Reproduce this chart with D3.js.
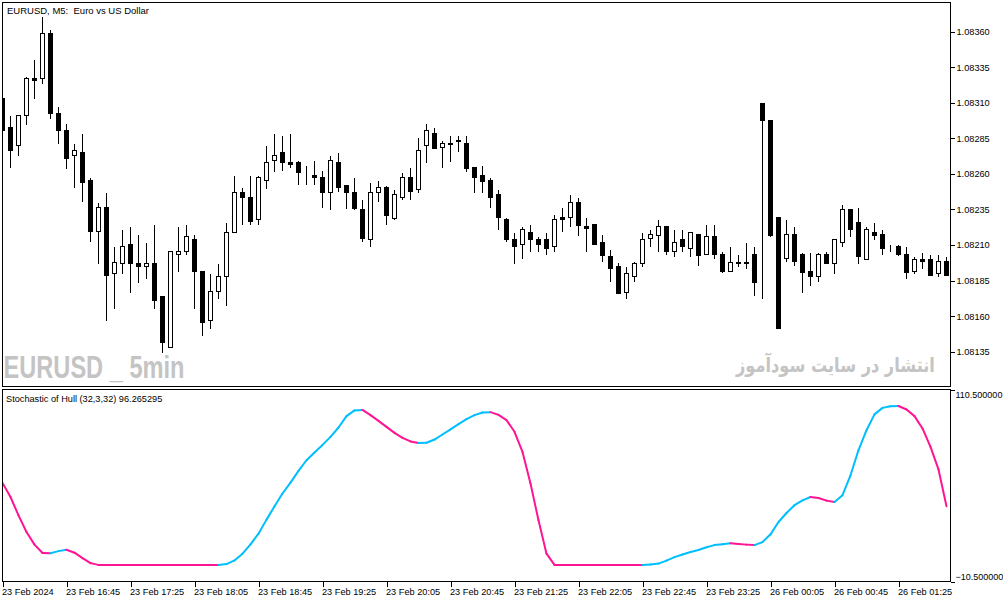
<!DOCTYPE html>
<html><head><meta charset="utf-8">
<script src="https://cdn.jsdelivr.net/npm/d3@7/dist/d3.min.js"></script>
<style>
html,body{margin:0;padding:0;background:#fff;}
svg{display:block;}
text{font-family:"Liberation Sans",Arial,sans-serif;font-size:9.2px;fill:#000;}
</style></head>
<body>
<script>
// ---------- DATA ----------
const symbolTitle = "EURUSD, M5:  Euro vs US Dollar";
const indicatorTitle = "Stochastic of Hull (32,3,32) 96.265295";
const watermarkLeft = "EURUSD _ 5min";
const watermarkRight = "انتشار در سایت سودآموز";

const opens = [1.08313,1.08293,1.08280,1.08301,1.08327,1.08327,1.08359,1.08303,1.08291,1.08273,
1.08275,1.08256,1.08220,1.08237,1.08190,1.08197,1.08211,1.08197,1.08195,1.08197,
1.08174,1.08138,1.08204,1.08206,1.08214,1.08192,1.08157,1.08178,1.08188,1.08219,
1.08247,1.08244,1.08228,1.08256,1.08270,1.08275,1.08268,1.08268,1.08261,1.08259,
1.08258,1.08247,1.08268,1.08252,1.08247,1.08235,1.08214,1.08247,1.08251,1.08229,
1.08244,1.08258,1.08249,1.08280,1.08289,1.08279,1.08282,1.08284,1.08282,1.08265,
1.08259,1.08256,1.08246,1.08228,1.08214,1.08211,1.08219,1.08214,1.08214,1.08209,
1.08230,1.08230,1.08240,1.08223,1.08225,1.08212,1.08202,1.08195,1.08177,1.08188,
1.08197,1.08215,1.08217,1.08223,1.08206,1.08214,1.08208,1.08218,1.08204,1.08216,
1.08204,1.08192,1.08197,1.08198,1.08204,1.08310,1.08298,1.08230,1.08201,1.08218,
1.08204,1.08192,1.08188,1.08204,1.08197,1.08212,1.08235,1.08226,1.08200,1.08219,
1.08218,1.08209,1.08209,1.08204,1.08192,1.08200,1.08200,1.08190,1.08199];

const highs = [1.08313,1.08301,1.08301,1.08329,1.08341,1.08371,1.08362,1.08308,1.08296,1.08282,
1.08289,1.08258,1.08240,1.08247,1.08209,1.08221,1.08223,1.08218,1.08212,1.08225,
1.08174,1.08206,1.08223,1.08225,1.08218,1.08192,1.08190,1.08197,1.08226,1.08259,
1.08251,1.08259,1.08259,1.08280,1.08289,1.08287,1.08289,1.08270,1.08266,1.08270,
1.08263,1.08273,1.08275,1.08252,1.08258,1.08242,1.08254,1.08256,1.08252,1.08249,
1.08261,1.08265,1.08286,1.08296,1.08293,1.08284,1.08287,1.08287,1.08287,1.08265,
1.08266,1.08258,1.08249,1.08230,1.08219,1.08223,1.08225,1.08216,1.08219,1.08232,
1.08237,1.08246,1.08244,1.08230,1.08225,1.08218,1.08207,1.08198,1.08195,1.08199,
1.08219,1.08221,1.08228,1.08223,1.08221,1.08221,1.08219,1.08218,1.08225,1.08225,
1.08206,1.08209,1.08204,1.08212,1.08209,1.08310,1.08298,1.08230,1.08228,1.08223,
1.08205,1.08205,1.08205,1.08206,1.08214,1.08239,1.08235,1.08237,1.08223,1.08226,
1.08221,1.08211,1.08211,1.08209,1.08202,1.08205,1.08204,1.08204,1.08202];

const lows = [1.08290,1.08265,1.08273,1.08295,1.08313,1.08324,1.08299,1.08282,1.08264,1.08251,
1.08241,1.08213,1.08197,1.08157,1.08166,1.08190,1.08177,1.08184,1.08187,1.08166,
1.08135,1.08138,1.08192,1.08204,1.08166,1.08147,1.08152,1.08173,1.08168,1.08219,
1.08225,1.08225,1.08225,1.08250,1.08262,1.08263,1.08265,1.08253,1.08253,1.08253,
1.08237,1.08235,1.08248,1.08236,1.08235,1.08213,1.08209,1.08241,1.08225,1.08228,
1.08242,1.08242,1.08247,1.08268,1.08278,1.08265,1.08269,1.08276,1.08262,1.08247,
1.08247,1.08237,1.08221,1.08213,1.08197,1.08201,1.08206,1.08206,1.08204,1.08206,
1.08220,1.08223,1.08217,1.08206,1.08211,1.08199,1.08185,1.08176,1.08173,1.08185,
1.08195,1.08209,1.08206,1.08204,1.08202,1.08206,1.08202,1.08196,1.08204,1.08201,
1.08191,1.08192,1.08195,1.08194,1.08175,1.08173,1.08216,1.08152,1.08199,1.08196,
1.08177,1.08182,1.08185,1.08197,1.08190,1.08209,1.08216,1.08197,1.08200,1.08214,
1.08204,1.08206,1.08203,1.08187,1.08190,1.08194,1.08189,1.08188,1.08189];

const closes = [1.08291,1.08277,1.08301,1.08327,1.08326,1.08359,1.08303,1.08291,1.08271,1.08277,
1.08254,1.08220,1.08237,1.08189,1.08198,1.08209,1.08197,1.08195,1.08197,1.08171,
1.08142,1.08206,1.08206,1.08216,1.08192,1.08156,1.08178,1.08188,1.08219,1.08247,
1.08244,1.08227,1.08258,1.08268,1.08273,1.08268,1.08267,1.08261,1.08261,1.08258,
1.08247,1.08270,1.08251,1.08247,1.08236,1.08215,1.08247,1.08251,1.08231,1.08246,
1.08258,1.08248,1.08277,1.08291,1.08278,1.08282,1.08281,1.08283,1.08264,1.08258,
1.08255,1.08244,1.08230,1.08214,1.08209,1.08221,1.08214,1.08211,1.08208,1.08228,
1.08228,1.08240,1.08224,1.08222,1.08211,1.08203,1.08194,1.08176,1.08190,1.08197,
1.08214,1.08218,1.08223,1.08206,1.08212,1.08209,1.08219,1.08203,1.08216,1.08204,
1.08192,1.08198,1.08198,1.08197,1.08184,1.08298,1.08217,1.08152,1.08218,1.08199,
1.08191,1.08188,1.08204,1.08197,1.08214,1.08235,1.08221,1.08202,1.08221,1.08217,
1.08208,1.08209,1.08204,1.08191,1.08200,1.08199,1.08189,1.08199,1.08189];

const stochHull = [51.8,42.9,31.3,20.8,12.8,7.5,7.4,8.7,9.6,7.7,
4.3,1.1,0,0,0,0,0,0,0,0,
0,0,0,0,0,0,0,0,0.5,2.8,
7.1,13.0,19.7,28.6,37.0,45.1,52.0,59.4,66.1,71.0,
75.8,80.9,86.8,94.0,97.6,97.9,94.6,91.0,87.2,83.4,
80.3,78.0,77.0,77.2,79.2,82.4,85.6,88.9,92.1,94.6,
96.3,96.5,94.8,91.5,84.1,71.4,51.4,28.2,7.1,0,
0,0,0,0,0,0,0,0,0,0,
0,0.2,0.8,2.7,4.9,6.6,8.1,9.4,11.1,12.5,
13.0,13.6,13.2,12.8,12.5,14.4,19.3,27.1,32.8,37.7,
40.8,42.9,42.3,40.6,39.7,44.0,56.6,72.5,85.1,95.1,
99.2,100.2,100.4,98.2,94.0,86.2,74.6,60.3,37.0];

const priceTicks = [1.08360,1.08335,1.08310,1.08285,1.08260,1.08235,1.08210,1.08185,1.08160,1.08135];
const indTicks = [110.5,-10.5];
const timeTickIdx = [0,8,16,24,32,40,48,56,64,72,80,88,96,104,112];
const timeTickLabels = ["23 Feb 2024","23 Feb 16:45","23 Feb 17:25","23 Feb 18:05","23 Feb 18:45",
"23 Feb 19:25","23 Feb 20:05","23 Feb 20:45","23 Feb 21:25","23 Feb 22:05","23 Feb 22:45",
"23 Feb 23:25","26 Feb 00:05","26 Feb 00:45","26 Feb 01:25"];

// ---------- LAYOUT ----------
const W = 1003, H = 603;
const L = 2, R = 950;
const mainTop = 2, mainBot = 386;
const indTop = 389, indBot = 581.5;
const upColor = "#00BFFF", dnColor = "#FF1493";

const svg = d3.select("body").append("svg").attr("width", W).attr("height", H);

const x = d3.scaleLinear().domain([0, opens.length - 1]).range([2.5, 2.5 + 8 * (opens.length - 1)]);
const y = d3.scaleLinear().domain([1.08135, 1.08360]).range([351.7, 31.5]);
const yi = d3.scaleLinear().domain([-10.5, 110.5]).range([581.5, 390]);

const defs = svg.append("defs");
defs.append("clipPath").attr("id","clipMain").append("rect")
  .attr("x", L).attr("y", mainTop).attr("width", R - L).attr("height", mainBot - mainTop);
defs.append("clipPath").attr("id","clipInd").append("rect")
  .attr("x", L).attr("y", indTop).attr("width", R - L).attr("height", indBot - indTop);

// watermarks (behind candles)
const wm = svg.append("g").attr("clip-path","url(#clipMain)");
wm.append("text").attr("x", 3.5).attr("y", 378)
  .attr("textLength", 181).attr("lengthAdjust","spacingAndGlyphs")
  .style("font-family","'Liberation Sans Narrow','Liberation Sans',Arial,sans-serif")
  .style("font-weight","bold").style("font-size","32px").style("fill","#C4C4C4")
  .text(watermarkLeft);
const wmR = wm.append("g");
const wmRt = wmR.append("text").attr("x", 0).attr("y", 0)
  .style("font-family","'DejaVu Sans',sans-serif")
  .style("font-weight","bold").style("font-size","20px").style("fill","#C4C4C4")
  .text(watermarkRight);
const natW = wmRt.node().getComputedTextLength() || 199;
wmR.attr("transform", `translate(736,372) scale(${199 / natW},1)`);

// candles
const cg = svg.append("g").attr("clip-path","url(#clipMain)").attr("shape-rendering","crispEdges");
const idx = d3.range(opens.length);
const snap = v => Math.round(v) + 0.5;
cg.selectAll("line.wick").data(idx).enter().append("line")
  .attr("x1", i => x(i)).attr("x2", i => x(i))
  .attr("y1", i => snap(y(highs[i]))).attr("y2", i => snap(y(lows[i])))
  .attr("stroke","#000").attr("stroke-width",1);
cg.selectAll("rect.body").data(idx).enter().append("rect")
  .attr("x", i => x(i) - 2).attr("width", 4)
  .attr("y", i => snap(y(Math.max(opens[i], closes[i]))))
  .attr("height", i => Math.max(0, snap(y(Math.min(opens[i], closes[i]))) - snap(y(Math.max(opens[i], closes[i])))))
  .attr("fill", i => closes[i] >= opens[i] ? "#fff" : "#000")
  .attr("stroke","#000").attr("stroke-width",1);

// indicator line
const ig = svg.append("g").attr("clip-path","url(#clipInd)");
const lineGen = d3.line().x(d => x(d[0])).y(d => yi(d[1]));
for (let i = 0; i < stochHull.length - 1; i++) {
  const rising = stochHull[i + 1] > stochHull[i];
  ig.append("path")
    .attr("d", lineGen([[i, stochHull[i]], [i + 1, stochHull[i + 1]]]))
    .attr("fill","none").attr("stroke", rising ? upColor : dnColor)
    .attr("stroke-width", 2).attr("stroke-linecap","round");
}

// frames
const fr = svg.append("g").attr("shape-rendering","crispEdges").attr("fill","none").attr("stroke","#000");
fr.append("rect").attr("x", L + 0.5).attr("y", mainTop + 0.5).attr("width", R - L).attr("height", mainBot - mainTop);
fr.append("rect").attr("x", L + 0.5).attr("y", indTop + 0.5).attr("width", R - L).attr("height", indBot - indTop - 0.5);

// price axis
const pa = svg.append("g").attr("transform", `translate(${R + 0.5},0)`)
  .call(d3.axisRight(y).tickValues(priceTicks).tickFormat(d3.format(".5f")).tickSize(4).tickPadding(2));
pa.select(".domain").remove();
pa.selectAll("text").style("font-size","9.2px");
pa.selectAll("line").attr("shape-rendering","crispEdges");

// indicator axis
const ia = svg.append("g").attr("transform", `translate(${R + 0.5},0)`)
  .call(d3.axisRight(yi).tickValues(indTicks).tickFormat(d3.format(".6f")).tickSize(4).tickPadding(1));
ia.select(".domain").remove();
ia.selectAll("text").style("font-size","9px").attr("dy", d => d > 50 ? "0.78em" : "-0.2em");
ia.selectAll("line").attr("shape-rendering","crispEdges");

// time axis
const ta = svg.append("g").attr("transform", `translate(0,${indBot})`)
  .call(d3.axisBottom(x).tickValues(timeTickIdx).tickFormat((d, k) => timeTickLabels[k]).tickSize(5).tickPadding(1.5));
ta.select(".domain").remove();
ta.selectAll("text").attr("text-anchor","start").attr("dx","-1").style("font-size","9.2px");
ta.selectAll("line").attr("shape-rendering","crispEdges");

// titles
svg.append("text").attr("x", 7).attr("y", 14).style("white-space","pre").style("font-size","9.5px").text(symbolTitle);
svg.append("text").attr("x", 6).attr("y", 402).text(indicatorTitle);
</script>
</body></html>
